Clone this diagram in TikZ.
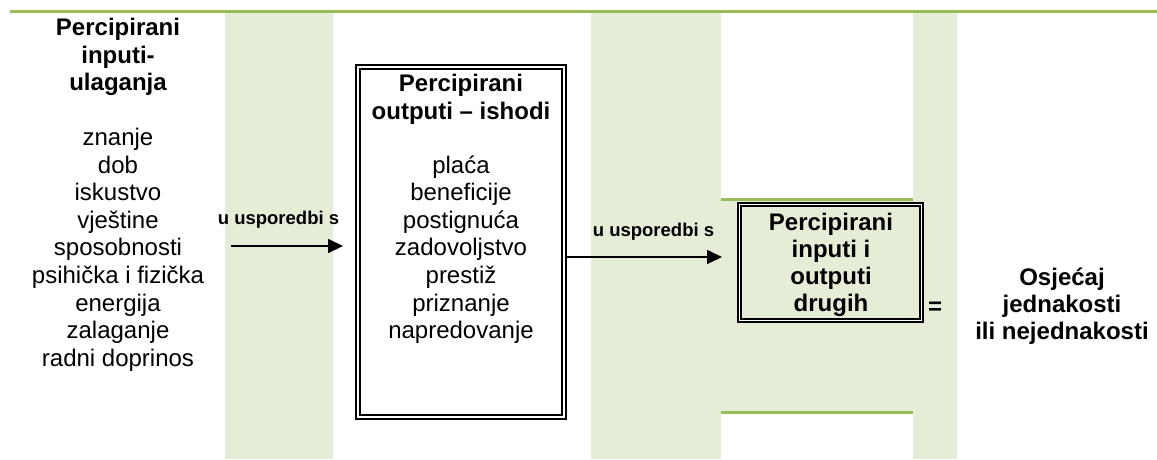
\documentclass[tikz,border=0pt]{standalone}
\usepackage{fontspec}
\setmainfont{Liberation Sans}
\usetikzlibrary{arrows.meta}
\usepackage{xcolor}
\definecolor{bandgreen}{RGB}{229,237,214}
\definecolor{rulegreen}{RGB}{155,187,89}

\begin{document}
\begin{tikzpicture}[x=1pt,y=-1pt,
  item/.style={anchor=base, inner sep=0, font=\fontsize{24}{27.6}\selectfont},
  head/.style={item, font=\fontsize{24}{27.6}\selectfont\bfseries},
  cmp/.style={anchor=base, inner sep=0, font=\fontsize{18.5}{22}\selectfont\bfseries},
  dbox/.style={draw, line width=1.9pt, double distance=1.8pt, inner sep=0},
  arr/.style={line width=1.5pt, -{Triangle[length=15pt,width=14pt]}}]
\useasboundingbox (0,0) rectangle (1157,459);
% background bands and rules
\fill[bandgreen] (225,12.7) rectangle (333,459);
\fill[bandgreen] (591,12.7) rectangle (721,459);
\fill[bandgreen] (913,12.7) rectangle (957,459);
\fill[bandgreen] (721,199) rectangle (913,412);
\draw[rulegreen, line width=3pt] (10,11.3)--(1157,11.3);
\draw[rulegreen, line width=3pt] (721,199)--(913,199);
\draw[rulegreen, line width=3pt] (721,412)--(913,412);
% boxes
\node[dbox, minimum width=206pt, minimum height=350pt] (outs) at (461,242) {};
\node[dbox, fill=bandgreen, double=white, minimum width=182pt, minimum height=116pt] (others) at (830.5,262.5) {};
% inputs
\foreach \t [count=\i] in {Percipirani,inputi-,ulaganja}
  \node[head] (inh\i) at (118,{35.5+27.5*(\i-1)}) {\t};
\foreach \t [count=\i] in {znanje,dob,iskustvo,vještine,sposobnosti,psihička i fizička,energija,zalaganje,radni doprinos}
  \node[item] (inp\i) at (118,{145.5+27.6*(\i-1)}) {\t};
% outputs
\foreach \t [count=\i] in {Percipirani,outputi – ishodi}
  \node[head] (outh\i) at (461,{91.5+27.5*(\i-1)}) {\t};
\foreach \t [count=\i] in {plaća,beneficije,postignuća,zadovoljstvo,prestiž,priznanje,napredovanje}
  \node[item] (out\i) at (461,{173+27.6*(\i-1)}) {\t};
% others
\foreach \t [count=\i] in {Percipirani,inputi i,outputi,drugih}
  \node[head] (oth\i) at (831,{230+27*(\i-1)}) {\t};
\node[head] (eq) at (935,314.5) {=};
\foreach \t [count=\i] in {Osjećaj,jednakosti,ili nejednakosti}
  \node[head] (res\i) at (1062,{285+27*(\i-1)}) {\t};
% comparisons
\coordinate (cmpA) at (231,246);
\coordinate (cmpB) at (722,257);
\node[cmp] (lblA) at (278.5,224.5) {u usporedbi s};
\node[cmp] (lblB) at (653.5,236.5) {u usporedbi s};
\draw[arr, shorten >=14pt] (cmpA) -- (outs.west |- cmpA);
\draw[arr] (outs.east |- cmpB) -- (cmpB);
\end{tikzpicture}
\end{document}
